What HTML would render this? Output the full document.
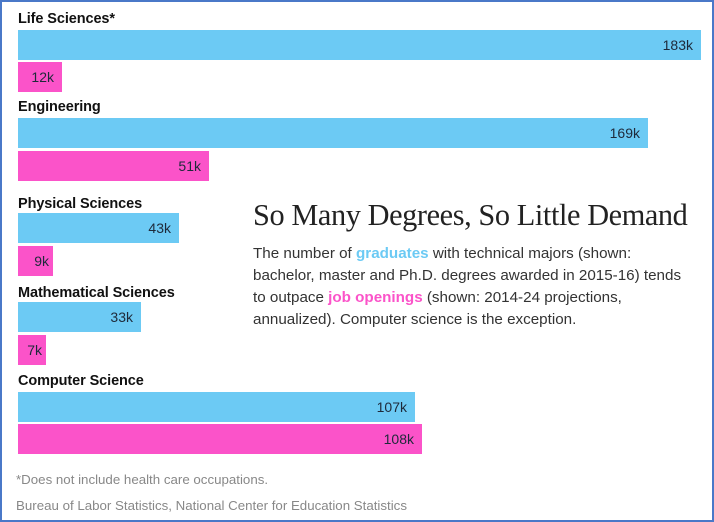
<!DOCTYPE html>
<html><head><meta charset="utf-8"><style>
body{margin:0;width:714px;height:522px;background:#fff;overflow:hidden;position:relative;font-family:"Liberation Sans",sans-serif}
.frame{position:absolute;left:0;top:0;width:710px;height:518px;border:2px solid #4a78c8}
.b{position:absolute;left:18px;height:30px;color:#1e2a3a;font-size:14px;line-height:30px;text-align:right;box-sizing:border-box;padding-right:8px}
.g{background:#6ccaf4}
.p{background:#fb53c9}
.l{position:absolute;left:18px;font-weight:bold;font-size:14.5px;color:#111;letter-spacing:-0.1px}
.t{position:absolute;left:253px;top:198px;font-family:"Liberation Serif",serif;font-size:30.3px;color:#222;letter-spacing:-0.4px;white-space:nowrap}
.d{position:absolute;left:253px;top:243px;font-size:15.2px;line-height:22px;color:#333;white-space:nowrap}
.f{position:absolute;left:16px;color:#888}
</style></head><body>
<div class="frame"></div>
<div class="l" style="top:11px">Life Sciences*</div>
<div class="b g" style="top:30px;width:683px">183k</div>
<div class="b p" style="top:62px;width:44px">12k</div>
<div class="l" style="top:99px">Engineering</div>
<div class="b g" style="top:118px;width:630px">169k</div>
<div class="b p" style="top:151px;width:191px">51k</div>
<div class="l" style="top:196px">Physical Sciences</div>
<div class="b g" style="top:213px;width:161px">43k</div>
<div class="b p" style="top:246px;width:35px;padding-right:4px">9k</div>
<div class="l" style="top:285px">Mathematical Sciences</div>
<div class="b g" style="top:302px;width:123px">33k</div>
<div class="b p" style="top:335px;width:28px;padding-right:4px">7k</div>
<div class="l" style="top:373px">Computer Science</div>
<div class="b g" style="top:392px;width:397px">107k</div>
<div class="b p" style="top:424px;width:404px">108k</div>
<div class="t">So Many Degrees, So Little Demand</div>
<div class="d">The number of <b style="color:#6ccaf4">graduates</b> with technical majors (shown:<br>bachelor, master and Ph.D. degrees awarded in 2015-16) tends<br>to outpace <b style="color:#fb53c9">job openings</b> (shown: 2014-24 projections,<br>annualized). Computer science is the exception.</div>
<div class="f" style="top:472px;font-size:13.3px">*Does not include health care occupations.</div>
<div class="f" style="top:498px;font-size:13.3px">Bureau of Labor Statistics, National Center for Education Statistics</div>
</body></html>
